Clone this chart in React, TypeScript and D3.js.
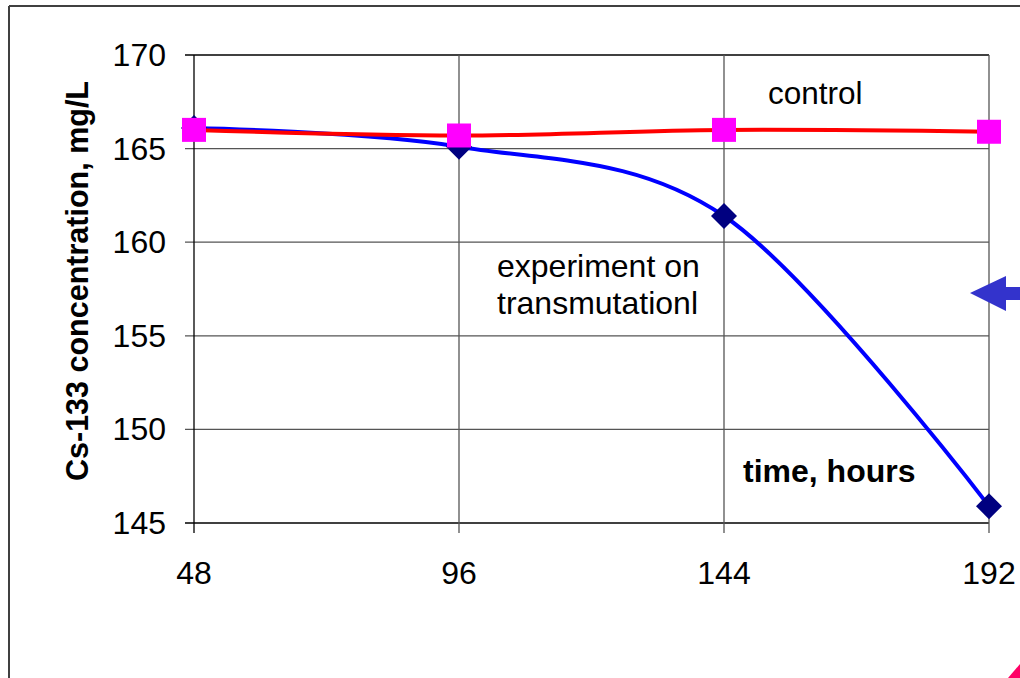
import React from 'react';
import * as d3 from 'd3';

const hours = [48, 96, 144, 192];
const experiment = [166.1, 165.1, 161.4, 145.9];
const control = [166.0, 165.7, 166.0, 165.9];
const yTicks = [145, 150, 155, 160, 165, 170];

const W = 1020;
const H = 678;

export default function App() {
  const x = d3.scaleLinear().domain([48, 192]).range([194, 989]);
  const y = d3.scaleLinear().domain([145, 170]).range([523, 55]);
  const font = '"Liberation Sans", Arial, sans-serif';

  const line = d3
    .line<number>()
    .x((d, i) => x(hours[i]))
    .y((d) => y(d))
    .curve(d3.curveCatmullRom.alpha(0));

  const diamond = (cx: number, cy: number) =>
    `M${cx},${cy - 13}L${cx + 13},${cy}L${cx},${cy + 13}L${cx - 13},${cy}Z`;

  return (
    <svg width={W} height={H} style={{ position: 'absolute', left: 0, top: 0, background: '#fff' }}>
      {/* outer frame */}
      <line x1={9} y1={6} x2={W} y2={6} stroke="#404040" strokeWidth={2} />
      <line x1={9} y1={6} x2={9} y2={H} stroke="#404040" strokeWidth={2} />

      {/* horizontal grid */}
      {yTicks.map((t) => (
        <line key={'h' + t} x1={185} x2={x(192)} y1={y(t)} y2={y(t)}
          stroke={t === 170 || t === 145 ? '#000' : '#555'} strokeWidth={1.3} />
      ))}
      {/* vertical grid */}
      {hours.map((h) => (
        <line key={'v' + h} x1={x(h)} x2={x(h)} y1={y(170)} y2={y(145) + 10}
          stroke={h === 48 ? '#000' : '#555'} strokeWidth={1.3} />
      ))}

      {/* y tick labels */}
      {yTicks.map((t) => (
        <text key={'yl' + t} x={166} y={y(t) + 11} textAnchor="end" fontFamily={font} fontSize={32} fill="#000">
          {t}
        </text>
      ))}
      {/* x tick labels */}
      {hours.map((h) => (
        <text key={'xl' + h} x={x(h)} y={584} textAnchor="middle" fontFamily={font} fontSize={32} fill="#000">
          {h}
        </text>
      ))}

      {/* y axis title */}
      <text transform="translate(88,281) rotate(-90)" textAnchor="middle" fontFamily={font}
        fontSize={30.5} fontWeight="bold" fill="#000">
        Cs-133 concentration, mg/L
      </text>

      {/* experiment series */}
      <path d={line(experiment)!} fill="none" stroke="#0000ff" strokeWidth={4} />
      {experiment.map((v, i) => (
        <path key={'d' + i} d={diamond(x(hours[i]), y(v))} fill="#000080" />
      ))}

      {/* control series */}
      <path d={line(control)!} fill="none" stroke="#ff0000" strokeWidth={4} />
      {control.map((v, i) => (
        <rect key={'s' + i} x={x(hours[i]) - 12} y={y(v) - 12} width={24} height={24} fill="#ff00ff" />
      ))}

      {/* annotations */}
      <text x={768} y={104} fontFamily={font} fontSize={31.5} fill="#000">control</text>
      <text x={497} y={277} fontFamily={font} fontSize={32} fill="#000">experiment on</text>
      <text x={497} y={314} fontFamily={font} fontSize={32} fill="#000">transmutationl</text>
      <text x={743} y={482} fontFamily={font} fontSize={32} fontWeight="bold" fill="#000">time, hours</text>

      {/* arrow at right edge */}
      <polygon points="970,293 1006,276 1006,287 1020,287 1020,300 1006,300 1006,311" fill="#3333cc" />
      {/* fragment at bottom right */}
      <polygon points="1020,664 1020,678 1008,678" fill="#ff0066" />
    </svg>
  );
}
